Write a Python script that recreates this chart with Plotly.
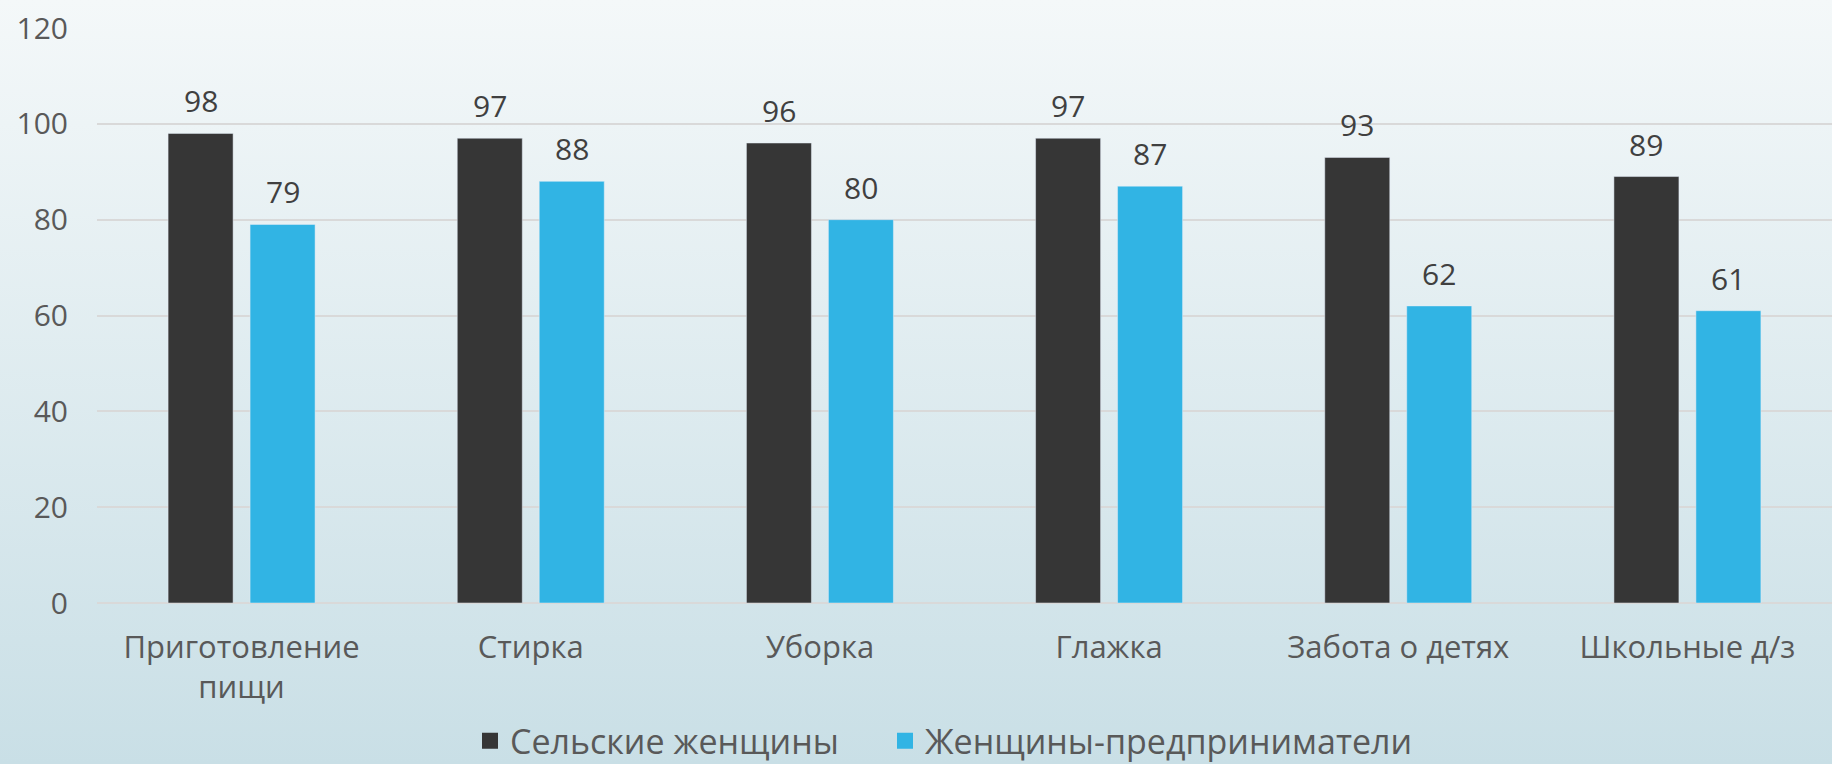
import base64
import plotly.graph_objects as go

categories = ["Приготовление<br>пищи", "Стирка", "Уборка", "Глажка", "Забота о детях", "Школьные д/з"]
rural_women = [98, 97, 96, 97, 93, 89]
entrepreneurs = [79, 88, 80, 87, 62, 61]
series_names = ["Сельские женщины", "Женщины-предприниматели"]
y_ticks = [0, 20, 40, 60, 80, 100, 120]

W, H = 1832, 764
ml, mr, mt, mb = 97, 0, 28, 161
pw, ph = W - ml - mr, H - mt - mb

FONT = "Open Sans"
TXT = "#595959"
COLORS = ["#363636", "#31b4e4"]

svg = (
    '<svg xmlns="http://www.w3.org/2000/svg" width="100" height="100" preserveAspectRatio="none">'
    '<defs><linearGradient id="g" x1="0" y1="0" x2="0" y2="1">'
    '<stop offset="0" stop-color="#f4f8f9"/><stop offset="1" stop-color="#c9dfe6"/>'
    '</linearGradient></defs><rect width="100" height="100" fill="url(#g)"/></svg>'
)
src = "data:image/svg+xml;base64," + base64.b64encode(svg.encode()).decode()

fig = go.Figure()
for name, vals, col in zip(series_names, [rural_women, entrepreneurs], COLORS):
    fig.add_trace(go.Bar(
        x=categories, y=vals, name=name, marker=dict(color=col), showlegend=False,
    ))

# value labels placed from data through the axes
half = pw / len(categories) * (1 - 0.433) / 4
annotations = []
for vals, dx in zip([rural_women, entrepreneurs], [-half, half]):
    for c, v in zip(categories, vals):
        annotations.append(dict(
            x=c, y=v, text=str(v), showarrow=False, xref="x", yref="y",
            xanchor="center", yanchor="bottom", xshift=dx, yshift=10,
            font=dict(family=FONT, size=30, color="#404040"),
        ))

# legend entries with larger square swatches, one legend box per series
legend_ids = ["legend", "legend2"]
for name, col, lid in zip(series_names, COLORS, legend_ids):
    fig.add_trace(go.Scatter(
        x=[None], y=[None], mode="markers", name=name, legend=lid,
        marker=dict(symbol="square", size=18, color=col),
    ))

leg_common = dict(
    orientation="h", xanchor="left", y=-0.19, yanchor="top",
    font=dict(family=FONT, size=34, color=TXT),
    itemwidth=30, bgcolor="rgba(0,0,0,0)",
)

fig.update_layout(
    width=W, height=H,
    margin=dict(l=ml, r=mr, t=mt, b=mb, autoexpand=False),
    paper_bgcolor="#dfecf0",
    plot_bgcolor="rgba(0,0,0,0)",
    barmode="group",
    bargap=0.433,
    bargroupgap=0.207,
    font=dict(family=FONT, size=30, color=TXT),
    annotations=annotations,
    images=[dict(
        source=src, xref="paper", yref="paper",
        x=-ml / pw, y=1 + mt / ph, sizex=W / pw, sizey=H / ph,
        xanchor="left", yanchor="top", sizing="stretch", layer="below",
    )],
    legend=dict(leg_common, x=(482 - 12 - ml) / pw),
    legend2=dict(leg_common, x=(897 - 12 - ml) / pw),
    showlegend=True,
)
fig.update_yaxes(
    range=[0, 120], tickvals=y_ticks, showgrid=True, gridcolor="#d9d9d9", gridwidth=2,
    zeroline=True, zerolinecolor="#d9d9d9", zerolinewidth=2,
    showline=False, ticks="", ticklabelstandoff=28,
    tickfont=dict(family=FONT, size=30, color=TXT),
)
fig.update_xaxes(
    showgrid=False, showline=False, ticks="", ticklabelstandoff=23,
    tickfont=dict(family=FONT, size=31, color=TXT),
)

fig.write_html("out.html", config={"displayModeBar": False},
               post_script="document.body.style.margin='0';")
